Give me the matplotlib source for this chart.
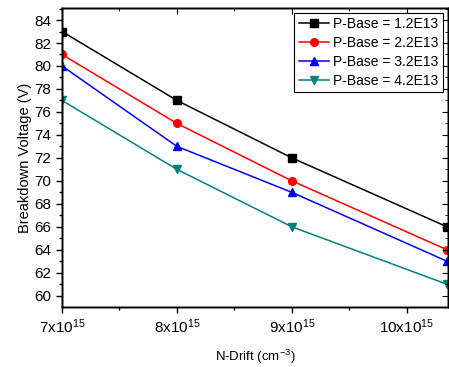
import matplotlib
matplotlib.use("Agg")
import matplotlib.pyplot as plt
from matplotlib.ticker import MultipleLocator, FuncFormatter

plt.rcParams['font.family'] = ['Liberation Sans', 'DejaVu Sans']
plt.rcParams['mathtext.fontset'] = 'custom'
plt.rcParams['mathtext.rm'] = 'Liberation Sans'
plt.rcParams['mathtext.it'] = 'Liberation Sans'

# data (x in units of 1e15 cm^-3)
n_drift = [7, 8, 9, 10.35]
labels = ["P-Base = 1.2E13", "P-Base = 2.2E13", "P-Base = 3.2E13", "P-Base = 4.2E13"]
bv_12 = [83, 77, 72, 66]
bv_22 = [81, 75, 70, 64]
bv_32 = [80, 73, 69, 63]
bv_42 = [77, 71, 66, 61]

series = [bv_12, bv_22, bv_32, bv_42]
colors = ["black", "red", "blue", "#008080"]
markers = ["s", "o", "^", "v"]

fig = plt.figure(figsize=(4.49, 3.67), dpi=100)
ax = fig.add_axes([62 / 449, 1 - 306.7 / 367, (447.7 - 62) / 449, (306.7 - 8.3) / 367])

for y, lab, c, m in zip(series, labels, colors, markers):
    ax.plot(n_drift, y, color=c, marker=m, markersize=5.5, linewidth=1.1, label=lab)

ax.set_xlim(7, 10.355)
ax.set_ylim(59.05, 85.02)
ax.xaxis.set_major_locator(MultipleLocator(1))
ax.xaxis.set_minor_locator(MultipleLocator(0.5))
ax.yaxis.set_major_locator(MultipleLocator(2))
ax.yaxis.set_minor_locator(MultipleLocator(1))
ax.xaxis.set_major_formatter(FuncFormatter(lambda v, p: f"{int(round(v))}x10$^{{15}}$"))

ax.tick_params(which='both', direction='out', labelsize=11)
ax.tick_params(which='major', length=4, width=1)
ax.tick_params(which='minor', length=2.5, width=1)

# inward ticks on the top and right edges
topax = ax.twiny()
topax.set_xlim(ax.get_xlim())
topax.xaxis.set_major_locator(MultipleLocator(1))
topax.xaxis.set_minor_locator(MultipleLocator(0.5))
topax.tick_params(which='both', direction='in', labeltop=False)
topax.tick_params(which='major', length=4)
topax.tick_params(which='minor', length=2.5)
rightax = ax.twinx()
rightax.set_ylim(ax.get_ylim())
rightax.yaxis.set_major_locator(MultipleLocator(2))
rightax.yaxis.set_minor_locator(MultipleLocator(1))
rightax.tick_params(which='both', direction='in', labelright=False)
rightax.tick_params(which='major', length=4)
rightax.tick_params(which='minor', length=2.5)

for a in (ax, topax, rightax):
    for s in a.spines.values():
        s.set_linewidth(1)

ax.set_xlabel("N-Drift (cm$^{-3}$)", fontsize=9.5, labelpad=9)
ax.set_ylabel("Breakdown Voltage (V)", fontsize=10.5, labelpad=2)

leg = rightax.legend(*ax.get_legend_handles_labels(), loc='upper right', fontsize=10,
                     frameon=True, fancybox=False, framealpha=1,
                     edgecolor='black', borderpad=0.3, labelspacing=0.35,
                     handlelength=2.2, handletextpad=0.3, borderaxespad=0.35)
leg.get_frame().set_linewidth(0.8)

fig.savefig("out.png", dpi=100)
